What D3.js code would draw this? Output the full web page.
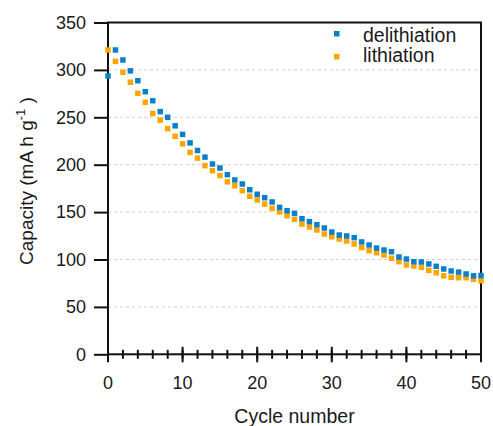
<!DOCTYPE html>
<html>
<head>
<meta charset="utf-8">
<script src="https://cdn.jsdelivr.net/npm/d3@7"></script>
<style>
  body { margin: 0; background: #fff; }
  text { font-family: "Liberation Sans", Arial, sans-serif; fill: #1a1a1a; }
</style>
</head>
<body>
<script>
// capacity vs cycle
var cycles = d3.range(0, 51);
var delithiation = [293.6, 321, 310.5, 299, 288.6, 277, 267.5, 256, 250, 241,
  232, 223, 215, 208, 200.7, 196.5, 189.5, 183.9, 179.6, 173.6,
  168.8, 165.2, 160.7, 155, 151.5, 148.7, 143, 139.9, 136.7, 133.2,
  129, 125.8, 124.8, 123, 118.5, 115.3, 112.1, 110, 108.2, 102.6,
  100.5, 97.7, 97.4, 95.3, 92.8, 90, 87.9, 86.7, 84.7, 82.8, 83.1];
var lithiation = [321, 309, 297.5, 287, 275.3, 265.8, 254, 247, 238, 230,
  222, 213, 207, 199, 193.7, 188.6, 181.9, 177.8, 172.6, 166.7,
  162.8, 158.5, 154, 150.1, 146.2, 142.4, 137.4, 134.3, 131.1, 126.9,
  124, 121.6, 119.5, 116.4, 112.6, 109.3, 107.2, 104.7, 101.3, 97.7,
  94.2, 93.1, 91.8, 88.5, 86, 82.8, 81.2, 80.8, 80.8, 79.1, 77.6];
var yTicks = [0, 50, 100, 150, 200, 250, 300, 350];
var xTicks = [0, 10, 20, 30, 40, 50];
var xMinor = d3.range(0, 51, 2);

var w = 493, h = 426;
var pl = 108, pr = 481, pt = 22.5, pb = 354.3;

var svg = d3.select("body").append("svg")
  .attr("width", w)
  .attr("height", h);

var x = d3.scaleLinear().domain([0, 50]).range([pl, pr]);
var y = d3.scaleLinear().domain([0, 350]).range([pb, pt]);

// dashed grid
svg.selectAll(".grid")
  .data(yTicks.filter(function(d) { return d > 0 && d < 350; }))
  .enter().append("line")
  .attr("x1", pl).attr("x2", pr)
  .attr("y1", function(d) { return y(d); })
  .attr("y2", function(d) { return y(d); })
  .attr("stroke", "#cfcfcf")
  .attr("stroke-width", 1)
  .attr("stroke-dasharray", "3,3");

// y axis, ticks outside
var yAxis = svg.append("g")
  .attr("transform", "translate(" + pl + ",0)")
  .call(d3.axisLeft(y).tickValues(yTicks).tickSize(14).tickPadding(8).tickFormat(d3.format("d")));
yAxis.select(".domain").remove();
yAxis.selectAll("line").attr("stroke", "#111").attr("stroke-width", 2);
yAxis.selectAll("text").style("font-size", "18px").attr("fill", "#1a1a1a");

// x minor ticks crossing the axis
svg.selectAll(".minor")
  .data(xMinor)
  .enter().append("line")
  .attr("x1", function(d) { return x(d); })
  .attr("x2", function(d) { return x(d); })
  .attr("y1", pb - 4.5).attr("y2", pb + 4.5)
  .attr("stroke", "#111").attr("stroke-width", 2);

svg.selectAll(".major")
  .data(xTicks)
  .enter().append("line")
  .attr("x1", function(d) { return x(d); })
  .attr("x2", function(d) { return x(d); })
  .attr("y1", pb - 7.5).attr("y2", pb + 8)
  .attr("stroke", "#111").attr("stroke-width", 2);

svg.selectAll(".xlab")
  .data(xTicks)
  .enter().append("text")
  .attr("x", function(d) { return x(d); })
  .attr("y", 388.5)
  .attr("text-anchor", "middle")
  .style("font-size", "18px")
  .text(function(d) { return d; });

// frame
svg.append("rect")
  .attr("x", pl).attr("y", pt)
  .attr("width", pr - pl).attr("height", pb - pt)
  .attr("fill", "none")
  .attr("stroke", "#111")
  .attr("stroke-width", 2);

// points
var s = 5.5;
svg.selectAll(".lith")
  .data(cycles)
  .enter().append("rect")
  .attr("x", function(d) { return x(d) - s / 2; })
  .attr("y", function(d, i) { return y(lithiation[i]) - s / 2; })
  .attr("width", s).attr("height", s)
  .attr("fill", "#ffa500");

svg.selectAll(".delith")
  .data(cycles)
  .enter().append("rect")
  .attr("x", function(d) { return x(d) - s / 2; })
  .attr("y", function(d, i) { return y(delithiation[i]) - s / 2; })
  .attr("width", s).attr("height", s)
  .attr("fill", "#0a80cc");

// legend
var legend = [["delithiation", "#0a80cc"], ["lithiation", "#ffa500"]];
legend.forEach(function(l, i) {
  svg.append("rect")
    .attr("x", 334).attr("y", 31 + i * 23)
    .attr("width", s).attr("height", s)
    .attr("fill", l[1]);
  svg.append("text")
    .attr("x", 363).attr("y", 41.7 + i * 20.6)
    .style("font-size", "19.5px")
    .text(l[0]);
});

// axis titles
svg.append("text")
  .attr("x", (pl + pr) / 2)
  .attr("y", 423)
  .attr("text-anchor", "middle")
  .style("font-size", "19.5px")
  .text("Cycle number");

var yt = svg.append("text")
  .attr("transform", "translate(33,181) rotate(-90)")
  .attr("text-anchor", "middle")
  .style("font-size", "19px");
yt.append("tspan").text("Capacity (mA h g");
yt.append("tspan").attr("dy", -8).style("font-size", "13px").text("-1");
yt.append("tspan").attr("dy", 8).text(" )");
</script>
</body>
</html>
